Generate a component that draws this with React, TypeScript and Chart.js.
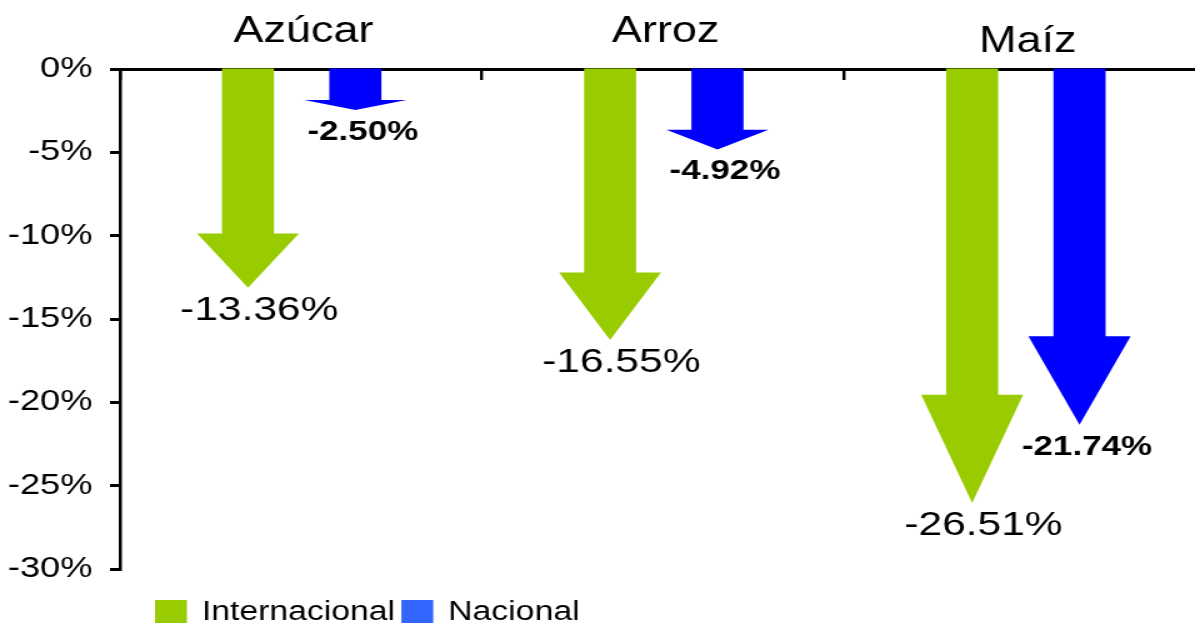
import React, { useEffect, useRef } from 'react';
import { Chart, registerables } from 'chart.js';

Chart.register(...registerables);

// ---- data ----
const categories = ['Azúcar', 'Arroz', 'Maíz'];
const internacional = [-13.36, -16.55, -26.51];
const nacional = [-2.5, -4.92, -21.74];
const yTicks = [0, -5, -10, -15, -20, -25, -30];
const seriesNames = ['Internacional', 'Nacional'];

// ---- style ----
const SX = 1.25; // the reference is stretched horizontally
const FONT = '"Liberation Sans", Arial, Helvetica, sans-serif';
const GREEN = '#99CC00';
const BLUE = '#0000FF';
const LEGEND_COLORS = [GREEN, '#3366FF'];
const TITLE_BASELINES = [42, 42, 52];
const TIP_REACH = 0.982; // arrow tip stops just short of the value

const arrowPlugin = {
  id: 'arrowBars',
  afterDatasetsDraw(chart: any) {
    const ctx = chart.ctx;
    chart.data.datasets.forEach((ds: any, di: number) => {
      const meta = chart.getDatasetMeta(di);
      meta.data.forEach((el: any, i: number) => {
        const { x, y: yv, base, width } = el.getProps(['x', 'y', 'base', 'width'], true);
        const y = base + (yv - base) * TIP_REACH;
        const len = y - base;
        const headLen = len * 0.25;
        const hw = width / 2;
        const headW = width * 0.98;
        ctx.save();
        ctx.fillStyle = ds.arrowColor;
        ctx.beginPath();
        ctx.moveTo(x - hw, base - 2);
        ctx.lineTo(x + hw, base - 2);
        ctx.lineTo(x + hw, y - headLen);
        ctx.lineTo(x + headW, y - headLen);
        ctx.lineTo(x, y);
        ctx.lineTo(x - headW, y - headLen);
        ctx.lineTo(x - hw, y - headLen);
        ctx.closePath();
        ctx.fill();

        const v = ds.data[i] as number;
        const text = v.toFixed(2) + '%';
        ctx.fillStyle = '#000';
        ctx.textAlign = 'center';
        ctx.textBaseline = 'top';
        if (di === 0) {
          ctx.font = `34px ${FONT}`;
          ctx.fillText(text, x + 9, y + 6);
        } else {
          ctx.font = `bold 28px ${FONT}`;
          ctx.fillText(text, x + 6, y + 8);
        }
        ctx.restore();
      });
    });
  },
  afterDraw(chart: any) {
    const ctx = chart.ctx;
    const xs = chart.scales.x;
    ctx.save();
    ctx.fillStyle = '#000';
    ctx.textAlign = 'center';
    ctx.textBaseline = 'alphabetic';
    ctx.font = `36px ${FONT}`;
    categories.forEach((c, i) => {
      ctx.fillText(c, xs.getPixelForValue(i) + 2, TITLE_BASELINES[i]);
    });
    // legend
    let lx = 124;
    const boxW = 25.5;
    const boxTop = 600;
    ctx.font = `27px ${FONT}`;
    ctx.textAlign = 'left';
    chart.data.datasets.forEach((ds: any, i: number) => {
      ctx.fillStyle = LEGEND_COLORS[i];
      ctx.fillRect(lx, boxTop, boxW, 30);
      lx += boxW + 12;
      ctx.fillStyle = '#000';
      ctx.fillText(ds.label, lx, 619.5);
      lx += ctx.measureText(ds.label).width + 5;
    });
    ctx.restore();
  },
};

export default function App() {
  const ref = useRef<HTMLCanvasElement | null>(null);
  useEffect(() => {
    if (!ref.current) return;
    const chart = new Chart(ref.current, {
      type: 'bar',
      data: {
        labels: categories,
        datasets: [
          {
            label: seriesNames[0],
            data: internacional,
            backgroundColor: 'rgba(0,0,0,0)',
            borderWidth: 0,
            arrowColor: GREEN,
            categoryPercentage: 0.586,
            barPercentage: 0.49,
          } as any,
          {
            label: seriesNames[1],
            data: nacional,
            backgroundColor: 'rgba(0,0,0,0)',
            borderWidth: 0,
            arrowColor: BLUE,
            categoryPercentage: 0.6,
            barPercentage: 0.48,
          } as any,
        ],
      },
      options: {
        responsive: false,
        animation: false,
        devicePixelRatio: 1,
        layout: { padding: { top: 0, left: 0, right: 0, bottom: 54 } },
        plugins: {
          legend: { display: false },
          title: { display: false },
          tooltip: { enabled: false },
        },
        scales: {
          x: {
            type: 'category',
            position: 'top',
            offset: true,
            z: 1,
            ticks: { display: false },
            grid: {
              display: true,
              offset: true,
              drawOnChartArea: false,
              drawTicks: true,
              tickLength: -11,
              color: '#000',
              lineWidth: 2.4,
            },
            border: { display: true, color: '#000', width: 3 },
            afterFit: (s: any) => {
              s.height = 69;
            },
          },
          y: {
            type: 'linear',
            min: -30,
            max: 0,
            z: 1,
            afterBuildTicks: (s: any) => {
              s.ticks = yTicks.map((v) => ({ value: v }));
            },
            ticks: {
              color: '#000',
              font: { family: FONT, size: 29 },
              padding: 14,
              callback: (v: any) => `${v}%`,
            },
            grid: {
              drawOnChartArea: false,
              drawTicks: true,
              tickLength: 8,
              color: '#000',
              lineWidth: 3,
            },
            border: { display: true, color: '#000', width: 2.5 },
            afterFit: (s: any) => {
              s.width = 96;
            },
          },
        },
      } as any,
      plugins: [arrowPlugin],
    });
    return () => chart.destroy();
  }, []);

  return (
    <div
      style={{
        position: 'absolute',
        left: 0,
        top: 0,
        width: 1195,
        height: 623,
        overflow: 'hidden',
        background: '#fff',
      }}
    >
      <canvas
        ref={ref}
        width={965}
        height={623}
        style={{ display: 'block', transform: `scaleX(${SX})`, transformOrigin: '0 0' }}
      />
    </div>
  );
}
